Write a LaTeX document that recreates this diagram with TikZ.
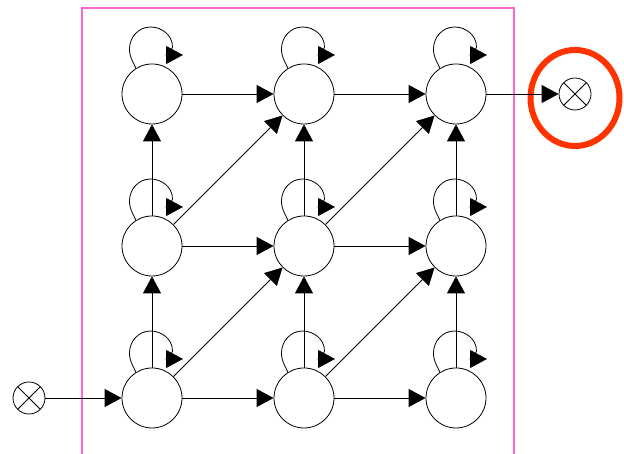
\documentclass[tikz,border=0pt]{standalone}
\usetikzlibrary{arrows.meta}
\definecolor{pinkline}{HTML}{FF66CC}
\definecolor{redring}{HTML}{FF3300}
\begin{document}
\begin{tikzpicture}[x=1pt,y=1pt,
  state/.style={circle,draw,fill=white,minimum size=60pt,inner sep=0pt,line width=0.8pt},
  xnode/.style={circle,draw,fill=white,minimum size=32pt,inner sep=0pt,line width=0.8pt,
    path picture={\draw[line width=0.8pt] (path picture bounding box.north west)--(path picture bounding box.south east)
      (path picture bounding box.south west)--(path picture bounding box.north east);}},
  arr/.style={-{Triangle[length=17pt,width=18pt]},line width=0.8pt}]
\clip (0,0) rectangle (624,454);
\fill[white] (0,0) rectangle (624,454);
\draw[pinkline,line width=2pt] (82,-20) rectangle (514,446);
\foreach \i/\x in {0/152,1/304,2/456}
  \foreach \j/\y in {0/56,1/208,2/360}
    \node[state] (n\i\j) at (\x,\y) {};
\node[xnode] (in) at (29,56) {};
\node[xnode] (out) at (575,360) {};
\draw[redring,line width=6pt] (575,356) ellipse [x radius=44.5, y radius=48];
\draw[arr] (in) -- (n00);
\foreach \j in {0,1,2} {
  \draw[arr] (n0\j) -- (n1\j);
  \draw[arr] (n1\j) -- (n2\j);
}
\foreach \i in {0,1,2} {
  \draw[arr] (n\i0) -- (n\i1);
  \draw[arr] (n\i1) -- (n\i2);
}
\draw[arr] (n00) -- (n11);
\draw[arr] (n10) -- (n21);
\draw[arr] (n01) -- (n12);
\draw[arr] (n11) -- (n22);
\draw[arr] (n22) -- (out);
\foreach \n in {n00,n01,n02,n10,n11,n12,n20,n21,n22}
  \draw[arr] (\n.122) to[out=115,in=-90] ([shift={(-22.5,45)}]\n.center)
    to[out=90,in=180] ([shift={(-1.5,67)}]\n.center)
    to[out=0,in=90] ([shift={(20.5,47)}]\n.center)
    to[out=-90,in=70] ([shift={(14,39)}]\n.center)
    -- ([shift={(31,39)}]\n.center);
\end{tikzpicture}
\end{document}
